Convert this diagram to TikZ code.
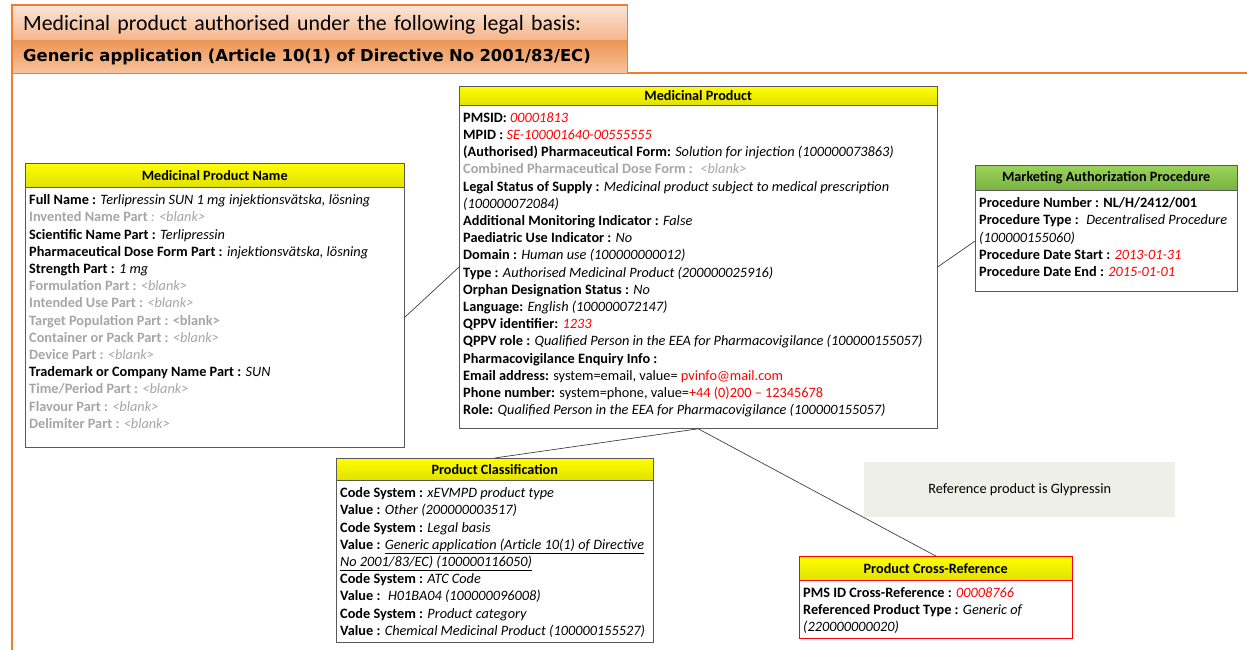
\documentclass[tikz,border=0pt]{standalone}
\usepackage{fontspec}
\setmainfont{Carlito}
\newfontfamily\verdfont{DejaVu Sans}

\definecolor{frameorange}{RGB}{237,125,49}
\definecolor{boxgray}{RGB}{89,89,89}
\definecolor{linkgray}{RGB}{64,64,64}
\definecolor{blankgray}{RGB}{166,166,166}
\definecolor{idred}{RGB}{255,0,0}
\definecolor{headyellow}{RGB}{255,255,0}
\definecolor{headolive}{RGB}{225,225,0}
\definecolor{headgreen}{RGB}{155,211,90}
\definecolor{headgreendark}{RGB}{120,178,66}
\definecolor{notefill}{RGB}{238,240,231}
\definecolor{bandtop}{RGB}{251,229,214}
\definecolor{bandmid}{RGB}{244,182,138}
\definecolor{banddark}{RGB}{237,150,86}
\definecolor{bandlow}{RGB}{247,196,158}

\newcommand{\gr}[1]{\textcolor{blankgray}{#1}}
\newcommand{\rd}[1]{\textcolor{idred}{#1}}
\newcommand{\fieldrows}[3]{\parbox[t][#1][t]{#2}{#3}}

\begin{document}
\begin{tikzpicture}[x=1pt,y=-1pt]
   \tikzstyle{every node}=[inner sep=0pt, anchor=north west]
   \tikzstyle{band}=[minimum width=615pt, text width=593pt, inner xsep=11pt, align=left]
   \tikzstyle{headbar}=[draw=boxgray, font=\bfseries\fontsize{14.2}{16}\selectfont, top color=headyellow, bottom color=headolive]
   \tikzstyle{fieldbox}=[draw=boxgray, fill=white, inner xsep=4pt, inner ysep=7pt, font=\fontsize{14.3}{17.2}\selectfont]
   \tikzstyle{link}=[draw=linkgray, line width=0.7pt]

\useasboundingbox (0,0) rectangle (1247,650);
\draw[frameorange, line width=1.2pt] (12,650) -- (12,73) -- (1247,73);

\node[band, top color=bandtop, bottom color=bandmid, minimum height=35pt, text depth=0pt, font=\fontsize{21.8}{24}\selectfont] (legal) at (12,5)
    {Medicinal product authorised under the following legal basis:};
\node[band, top color=banddark, bottom color=bandlow, minimum height=33pt, font=\verdfont\bfseries\fontsize{16.4}{18}\selectfont] (basis) at (legal.south west)
    {Generic application (Article 10(1) of Directive No 2001/83/EC)};
\draw[frameorange, line width=1.2pt] (legal.north west) rectangle (basis.south east);

\node[headbar, minimum width=379pt, minimum height=24pt] (mpn-t) at (25,163) {Medicinal Product Name};
\node[fieldbox] (mpn) at (mpn-t.south west) {\fieldrows{246pt}{371pt}{%
    \textbf{Full Name :} \textit{Terlipressin SUN 1 mg injektionsvätska, lösning}\\
    \gr{\textbf{Invented Name Part} \textit{: <blank>}}\\
    \textbf{Scientific Name Part :} \textit{Terlipressin}\\
    \textbf{Pharmaceutical Dose Form Part :} \textit{injektionsvätska, lösning}\\
    \textbf{Strength Part :} \textit{1 mg}\\
    \gr{\textbf{Formulation Part :} \textit{<blank>}}\\
    \gr{\textbf{Intended Use Part :} \textit{<blank>}}\\
    \gr{\textbf{Target Population Part : <blank>}}\\
    \gr{\textbf{Container or Pack Part :} \textit{<blank>}}\\
    \gr{\textbf{Device Part :} \textit{<blank>}}\\
    \textbf{Trademark or Company Name Part :} \textit{SUN}\\
    \gr{\textbf{Time/Period Part :} \textit{<blank>}}\\
    \gr{\textbf{Flavour Part :} \textit{<blank>}}\\
    \gr{\textbf{Delimiter Part :} \textit{<blank>}}}};

\node[headbar, minimum width=478pt, minimum height=19pt] (mp-t) at (459,86) {Medicinal Product};
\node[fieldbox] (mp) at (mp-t.south west) {\fieldrows{309pt}{470pt}{%
    \textbf{PMSID:} \rd{\textit{00001813}}\\
    \textbf{MPID :} \rd{\textit{SE-100001640-00555555}}\\
    \textbf{(Authorised) Pharmaceutical Form:} \textit{Solution for injection (100000073863)}\\
    \gr{\textbf{Combined Pharmaceutical Dose Form :} \ \textit{<blank>}}\\
    \textbf{Legal Status of Supply :} \textit{Medicinal product subject to medical prescription}\\
    \textit{(100000072084)}\\
    \textbf{Additional Monitoring Indicator :} \textit{False}\\
    \textbf{Paediatric Use Indicator :} \textit{No}\\
    \textbf{Domain :} \textit{Human use (100000000012)}\\
    \textbf{Type :} \textit{Authorised Medicinal Product (200000025916)}\\
    \textbf{Orphan Designation Status :} \textit{No}\\
    \textbf{Language:} \textit{English (100000072147)}\\
    \textbf{QPPV identifier:} \rd{\textit{1233}}\\
    \textbf{QPPV role :} \textit{Qualified Person in the EEA for Pharmacovigilance (100000155057)}\\
    \textbf{Pharmacovigilance Enquiry Info :}\\
    \textbf{Email address:} system=email, value= \rd{pvinfo@mail.com}\\
    \textbf{Phone number:} system=phone, value=\rd{+44 (0)200 – 12345678}\\
    \textbf{Role:} \textit{Qualified Person in the EEA for Pharmacovigilance (100000155057)}}};

\node[headbar, top color=headgreen, bottom color=headgreendark, minimum width=262pt, minimum height=25pt] (map-t) at (975,165) {Marketing Authorization Procedure};
\node[fieldbox] (map) at (map-t.south west) {\fieldrows{87pt}{254pt}{%
    \textbf{Procedure Number : NL/H/2412/001}\\
    \textbf{Procedure Type :} \ \textit{Decentralised Procedure}\\
    \textit{(100000155060)}\\
    \textbf{Procedure Date Start :} \rd{\textit{2013-01-31}}\\
    \textbf{Procedure Date End :} \rd{\textit{2015-01-01}}}};

\node[headbar, minimum width=317pt, minimum height=22pt] (pc-t) at (336,458) {Product Classification};
\node[fieldbox] (pc) at (pc-t.south west) {\fieldrows{148pt}{309pt}{%
    \textbf{Code System :} \textit{xEVMPD product type}\\
    \textbf{Value :} \textit{Other (200000003517)}\\
    \textbf{Code System :} \textit{Legal basis}\\
    \textbf{Value :} \underline{\textit{Generic application (Article 10(1) of Directive}}\\
    \underline{\textit{No 2001/83/EC) (100000116050)}}\\
    \textbf{Code System :} \textit{ATC Code}\\
    \textbf{Value :} \ \textit{H01BA04 (100000096008)}\\
    \textbf{Code System :} \textit{Product category}\\
    \textbf{Value :} \textit{Chemical Medicinal Product (100000155527)}}};

\node[headbar, draw=idred, minimum width=273pt, minimum height=24pt] (pcr-t) at (799,556) {Product Cross-Reference};
\node[fieldbox, draw=idred] (pcr) at (pcr-t.south west) {\fieldrows{44pt}{265pt}{%
    \textbf{PMS ID Cross-Reference :} \rd{\textit{00008766}}\\
    \textbf{Referenced Product Type :} \textit{Generic of}\\
    \textit{(220000000020)}}};

\node[fill=notefill, minimum width=311pt, minimum height=55pt, font=\fontsize{14.3}{16}\selectfont] (glyp) at (864,462) {Reference product is Glypressin};

\draw[link] (mpn.east) -- (mp.west);
\draw[link] (mp.east) -- (map.west);
\draw[link] (mp.south) -- (pc-t.north);
\draw[link] (mp.south) -- (pcr-t.north);

\end{tikzpicture}
\end{document}
